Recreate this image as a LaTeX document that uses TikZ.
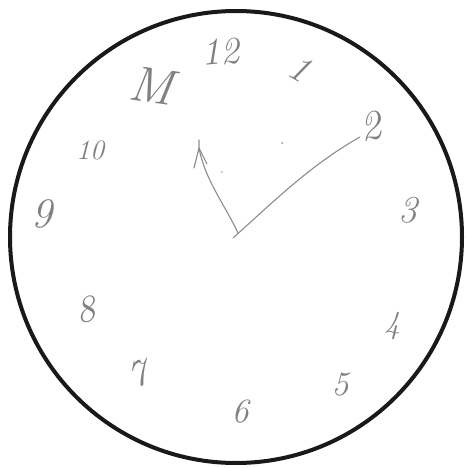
\documentclass[tikz,border=0pt]{standalone}
\begin{document}
\begin{tikzpicture}[x=1pt,y=-1pt,
  num/.style={text=black!50, font=\fontsize{38}{38}\selectfont\itshape, inner sep=0pt},
  hand/.style={draw=black!45, line width=1.1pt, line cap=round, line join=round}]
\useasboundingbox (0,0) rectangle (467,468);
\fill[white] (0,0) rectangle (467,468);
\node[draw=black!90, line width=4pt, circle, minimum size=452pt, inner sep=0pt] (face) at (236,237) {};
% numerals
\node[num, rotate=5] (n12) at (220,52) {12};
\node[num, font=\fontsize{50}{50}\selectfont\itshape, rotate=-8] (n11) at (152,86) {M};
\node[num, rotate=-30] (n1) at (300,68) {1};
\node[num, font=\fontsize{42}{42}\selectfont\itshape, rotate=10] (n2) at (370,126) {2};
\node[num] (n3) at (408,210) {3};
\node[num, font=\fontsize{32}{32}\selectfont\itshape] (n4) at (392,326) {4};
\node[num, font=\fontsize{34}{34}\selectfont\itshape] (n5) at (340,385) {5};
\node[num, font=\fontsize{34}{34}\selectfont\itshape] (n6) at (240,412) {6};
\node[num, rotate=15] (n7) at (138,374) {7};
\node[num, rotate=10] (n8) at (86,310) {8};
\node[num, font=\fontsize{42}{42}\selectfont\itshape] (n9) at (42,214) {9};
\node[num, font=\fontsize{28}{28}\selectfont\itshape] (n10) at (90,150) {10};
% hands
\coordinate (c) at (238,233);
\coordinate (hh) at (199,148);
\coordinate (mh) at (360,137);
\draw[hand] (c) .. controls (225,205) and (205,180) .. (hh);
\draw[hand] (hh) -- (194,168) (hh) -- (207,164) (199,140) -- (199,150);
\draw[hand] (233,238) .. controls (270,205) and (310,165) .. (mh);
\fill[black!40] (282,143) circle (1pt) (222,172) circle (0.9pt);
\end{tikzpicture}
\end{document}
